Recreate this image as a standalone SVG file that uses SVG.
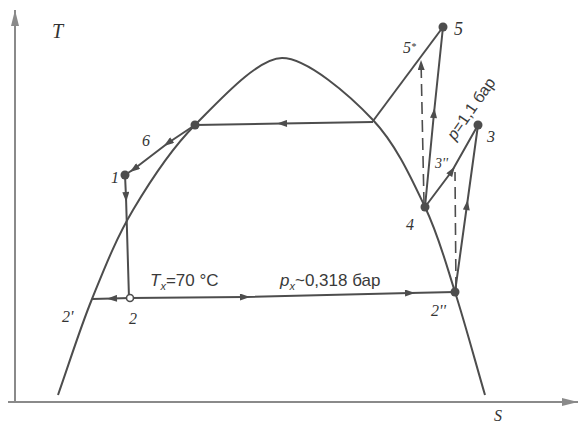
<svg xmlns="http://www.w3.org/2000/svg" width="582" height="428" viewBox="0 0 582 428">
<defs>
<style>
.ln{fill:none;stroke:#4d4d4d;stroke-width:2;stroke-linejoin:round}
.ar{marker-mid:url(#ah)}
.ds{fill:none;stroke:#4d4d4d;stroke-width:1.6;stroke-dasharray:12,6}
.ax{fill:none;stroke:#8a8a8a;stroke-width:2}
.pt{fill:#4d4d4d}
.lb{font-family:"Liberation Serif",serif;font-style:italic;font-size:16px;fill:#333}
.tx{font-family:"Liberation Sans",sans-serif;font-size:17px;fill:#3a3a3a}
</style>
<marker id="ah" viewBox="0 0 10 7" refX="5" refY="3.5" markerWidth="11" markerHeight="7" markerUnits="userSpaceOnUse" orient="auto">
<path d="M0,0 L10,3.5 L0,7 z" fill="#4d4d4d"/>
</marker>
<marker id="ahe" viewBox="0 0 10 7" refX="10" refY="3.5" markerWidth="11" markerHeight="7" markerUnits="userSpaceOnUse" orient="auto">
<path d="M0,0 L10,3.5 L0,7 z" fill="#4d4d4d"/>
</marker>
<marker id="axh" viewBox="0 0 16 8" refX="16" refY="4" markerWidth="18" markerHeight="8" markerUnits="userSpaceOnUse" orient="auto">
<path d="M0,0 L16,4 L0,8 z" fill="#8a8a8a"/>
</marker>
</defs>
<rect width="582" height="428" fill="#ffffff"/>
<g id="axes">
<path class="ax" d="M15,402 L15,10" marker-end="url(#axh)"/>
<path class="ax" d="M8,402 L578,402" marker-end="url(#axh)"/>
<text class="lb" x="52" y="38" style="font-size:20px">T</text>
<text class="lb" x="494" y="421" style="font-size:16px">S</text>
</g>
<g id="dome">
<path class="ln" d="M58,395 C69.3,363 79.5,329.8 92,299 C104.5,268.2 115.8,239 133,210 C150.2,181 169.7,150.3 195,125 C220.3,99.7 258,58 282,58 C307,58 349.7,95.2 373,120 C396.3,144.8 411.3,178.3 425,207 C438.7,235.7 445,260.7 455,292 C465,323.3 475,360.7 485,395"/>
</g>
<g id="connectors">
<path class="ln ar" d="M373,122 L282,123.5 L195,125"/>
<path class="ln ar" d="M195,125 L168,143 L134,169 L125,175"/>
<path class="ln ar" d="M125,175 L126,197 L129,298"/>
<path class="ln ar" d="M130,298 L112,298.5 L92,299"/>
<path class="ln ar" d="M130,298 L245,297 L410,293 L455,292"/>
<path class="ln ar" d="M455,292 L467,205 L478,125"/>
<path class="ln ar" d="M425,207 L452,171 L478,125"/>
<path class="ln ar" d="M425,207 L434,113 L443,27"/>
<path class="ln" d="M373,121 L443,27"/>
<path class="ds" d="M424,204 L421,60" marker-end="url(#ahe)"/>
<path class="ds" d="M456,289 L455,172"/>
</g>
<g id="n6"><circle class="pt" cx="195" cy="125" r="4.5"/><text class="lb" x="142" y="146">6</text></g>
<g id="n1"><circle class="pt" cx="125" cy="175" r="4.5"/><text class="lb" x="111" y="183">1</text></g>
<g id="n2"><circle cx="130" cy="298" r="3.5" fill="#fff" stroke="#4d4d4d" stroke-width="1.6"/><text class="lb" x="129" y="324">2</text></g>
<g id="n2p"><text class="lb" x="62" y="322">2'</text></g>
<g id="n2pp"><circle class="pt" cx="455" cy="292" r="4.5"/><text class="lb" x="431" y="316">2''</text></g>
<g id="n4"><circle class="pt" cx="425" cy="207" r="4.5"/><text class="lb" x="406" y="230">4</text></g>
<g id="n3pp"><text class="lb" x="435" y="168" style="font-size:14px">3''</text></g>
<g id="n3"><circle class="pt" cx="478" cy="125" r="4.5"/><text class="lb" x="487" y="142">3</text></g>
<g id="n5"><circle class="pt" cx="443" cy="27" r="4.5"/><text class="lb" x="454" y="35" style="font-size:18px">5</text></g>
<g id="n5s"><text class="lb" x="403" y="53">5<tspan style="font-size:10px" dy="-3">*</tspan></text></g>
<g id="labels">
<text class="tx" x="150" y="286"><tspan font-style="italic">T</tspan><tspan style="font-size:11px;font-style:italic" dy="4">x</tspan><tspan dy="-4">=70 °C</tspan></text>
<text class="tx" x="280" y="286"><tspan font-style="italic">p</tspan><tspan style="font-size:11px;font-style:italic" dy="4">x</tspan><tspan dy="-4">~0,318 бар</tspan></text>
<text class="tx" transform="translate(455,141) rotate(-55)" style="font-size:16px"><tspan font-style="italic">p</tspan>=1,1 бар</text>
</g>
</svg>
